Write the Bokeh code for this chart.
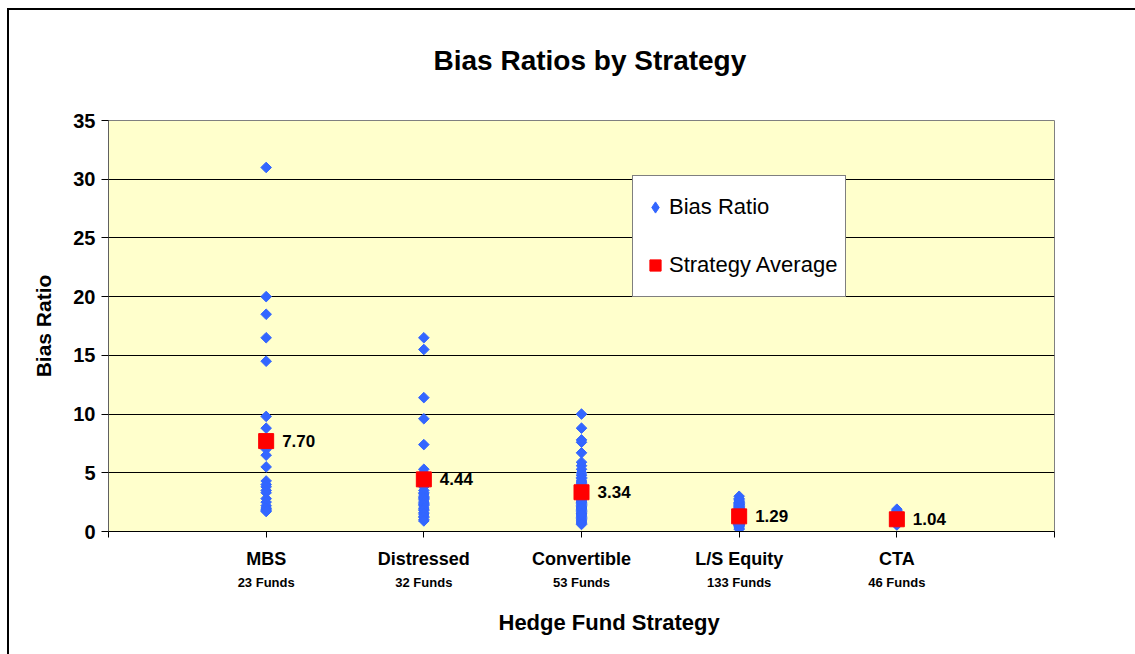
import numpy as np
from bokeh.plotting import figure
from bokeh.models import (Range1d, FixedTicker, LabelSet, Legend, LegendItem,
                          ColumnDataSource, LinearAxis, Title)
from bokeh.core.properties import value
from bokeh.embed import file_html
from bokeh.resources import INLINE

# ---------------- data ----------------
strategies = ["MBS", "Distressed", "Convertible", "L/S Equity", "CTA"]
fund_counts = [23, 32, 53, 133, 46]
averages = [7.70, 4.44, 3.34, 1.29, 1.04]

mbs = [31.0, 20.0, 18.5, 16.5, 14.5, 9.8, 8.8, 7.3, 7.0, 6.5, 5.5, 4.3, 4.0,
       3.8, 3.5, 3.3, 2.8, 2.5, 2.2, 2.0, 1.9, 1.8, 1.7]
distressed = [16.5, 15.5, 11.4, 9.6, 7.4, 5.3, 5.0, 4.7, 4.4, 4.2, 4.0, 3.8,
              3.5, 3.3, 3.2, 3.0, 2.9, 2.8, 2.7, 2.5, 2.4, 2.3, 2.2, 2.0, 1.9,
              1.8, 1.6, 1.5, 1.3, 1.2, 1.0, 0.9]
convertible = [10.0, 8.8, 7.8, 7.6, 6.7, 5.9, 5.6, 5.3, 5.0, 4.8, 4.6, 4.5,
               4.3, 4.1, 4.0, 3.8, 3.7, 3.6, 3.5, 3.4, 3.3, 3.2, 3.1, 3.0, 2.9,
               2.8, 2.7, 2.6, 2.5, 2.4, 2.3, 2.2, 2.1, 2.0, 1.9, 1.8, 1.7, 1.6,
               1.5, 1.4, 1.3, 1.2, 1.1, 1.0, 0.9, 0.8, 0.7, 0.6, 2.5, 3.0, 2.0,
               1.5, 4.2]
ls_equity = [3.0, 2.8, 2.6, 2.5, 2.4, 2.3, 2.2, 2.1, 2.0, 2.0,
             1.9, 1.9, 1.8, 1.8, 1.8, 1.7, 1.7, 1.7, 1.6, 1.6,
             1.6, 1.6, 1.5, 1.5, 1.5, 1.5, 1.5, 1.4, 1.4, 1.4,
             1.4, 1.4, 1.4, 1.3, 1.3, 1.3, 1.3, 1.3, 1.3, 1.3,
             1.2, 1.2, 1.2, 1.2, 1.2, 1.2, 1.2, 1.1, 1.1, 1.1,
             1.1, 1.1, 1.1, 1.1, 1.0, 1.0, 1.0, 1.0, 1.0, 1.0,
             0.9, 0.9, 0.9, 0.9, 0.9, 0.8, 0.8, 0.8, 0.8, 0.7,
             0.7, 0.7, 0.6, 0.6, 0.5, 0.5, 0.4, 0.3, 0.2, 1.25,
             1.45, 1.35, 1.25, 1.15, 1.05, 0.95, 1.55, 1.65, 1.75, 1.85,
             2.15, 2.35, 2.05, 1.95, 1.62, 1.38, 1.22, 1.08, 0.98, 0.88,
             1.32, 1.28, 1.18, 1.12, 1.02, 1.42, 1.48, 1.52, 1.58, 0.78,
             0.68, 0.72, 0.85, 0.92, 1.06, 1.16, 1.26, 1.36, 1.46, 1.56,
             1.66, 1.76, 1.86, 2.25, 2.45, 2.7, 0.58, 0.62, 0.82, 1.04,
             1.14, 1.24, 1.34]
cta = [1.9, 1.8, 1.7, 1.6, 1.5, 1.45, 1.4, 1.35, 1.3, 1.25, 1.2, 1.2, 1.15,
       1.1, 1.1, 1.05, 1.05, 1.0, 1.0, 1.0, 0.95, 0.95, 0.9, 0.9, 0.9, 0.85,
       0.85, 0.8, 0.8, 0.75, 0.75, 0.7, 0.7, 0.65, 0.6, 0.55, 1.12, 1.08,
       0.98, 0.92, 1.02, 0.88, 1.18, 1.28, 0.78, 0.68]

y_ticks = [0, 5, 10, 15, 20, 25, 30, 35]
x_ticks = [0, 1, 2, 3, 4, 5, 6]

series = [mbs, distressed, convertible, ls_equity, cta]

# ---------------- build sources ----------------
pts_x, pts_y = [], []
for i, vals in enumerate(series):
    pts_x += [i + 1] * len(vals)
    pts_y += list(vals)
pts_src = ColumnDataSource(dict(x=pts_x, y=pts_y))

cat_x = [i + 1 for i in range(len(strategies))]
avg_src = ColumnDataSource(dict(x=cat_x, y=averages,
                                txt=["%.2f" % a for a in averages]))

FONT = "Liberation Sans"
BLUE = "#3366FF"

p = figure(width=1135, height=654,
           x_range=Range1d(0, 6), y_range=Range1d(0, 35),
           output_backend="svg", toolbar_location=None,
           min_border_left=108, min_border_right=81,
           min_border_top=120, min_border_bottom=123,
           background_fill_color="#FFFFCC", border_fill_color=None,
           outline_line_color="#808080")
p.styles = {
    "background": "linear-gradient(black, black) 7px 8px / 2px 646px no-repeat, "
                  "linear-gradient(black, black) 7px 8px / 1128px 2px no-repeat, white"
}

# title
p.title = Title(text="Bias Ratios by Strategy", align="left", offset=325,
                vertical_align="top",
                text_font=FONT, text_font_style="bold", text_font_size="28px",
                text_color="black", standoff=86)

# y axis
p.yaxis.ticker = FixedTicker(ticks=y_ticks)
p.yaxis.major_label_text_font = FONT
p.yaxis.major_label_text_font_style = "bold"
p.yaxis.major_label_text_font_size = "20px"
p.yaxis.major_label_text_color = "black"
p.yaxis.major_label_standoff = 6
p.yaxis.major_tick_out = 7
p.yaxis.major_tick_in = 0
p.yaxis.minor_tick_out = 0
p.yaxis.minor_tick_in = 0
p.yaxis.axis_line_color = "#606060"
p.yaxis.major_tick_line_color = "black"
p.yaxis.axis_label = "Bias Ratio"
p.yaxis.axis_label_text_font = FONT
p.yaxis.axis_label_text_font_style = "bold"
p.yaxis.axis_label_text_font_size = "21px"
p.yaxis.axis_label_text_color = "black"
p.yaxis.axis_label_standoff = 15

# x axis: strategy names
xa = p.xaxis[0]
xa.ticker = FixedTicker(ticks=x_ticks)
xa.major_label_overrides = {0: "", 6: "", **{i + 1: s for i, s in enumerate(strategies)}}
xa.major_label_text_font = FONT
xa.major_label_text_font_style = "bold"
xa.major_label_text_font_size = "18px"
xa.major_label_text_color = "black"
xa.major_label_standoff = 11
xa.major_tick_out = 6
xa.major_tick_in = 0
xa.minor_tick_out = 0
xa.minor_tick_in = 0
xa.axis_line_color = "black"
xa.major_tick_line_color = "black"

# second x axis: fund counts
xa2 = LinearAxis(ticker=FixedTicker(ticks=cat_x),
                 major_label_overrides={i + 1: "%d Funds" % n for i, n in enumerate(fund_counts)},
                 major_label_text_font=FONT, major_label_text_font_style="bold",
                 major_label_text_font_size="13px", major_label_text_color="black",
                 major_label_standoff=3, axis_line_color=None,
                 major_tick_line_color=None, minor_tick_line_color=None,
                 major_tick_out=0, major_tick_in=0, minor_tick_out=0, minor_tick_in=0)
p.add_layout(xa2, "below")

p.add_layout(Title(text="Hedge Fund Strategy", align="left", offset=390,
                   text_font=FONT, text_font_style="bold", text_font_size="22px",
                   text_color="black", standoff=30), "below")

p.xgrid.visible = False
p.ygrid.ticker = FixedTicker(ticks=[5, 10, 15, 20, 25, 30])
p.ygrid.grid_line_color = "black"
p.ygrid.grid_line_width = 1

# glyphs: points as 45-degree squares (true diamonds)
r_pts = p.scatter(x="x", y="y", source=pts_src, marker="square",
                  angle=np.pi / 4, size=7.5,
                  fill_color=BLUE, line_color=BLUE)
r_avg = p.scatter(x="x", y="y", source=avg_src, marker="square", size=15,
                  fill_color="#FF0000", line_color="#FF0000")
# legend key glyph for the points series (a single NaN point, never plotted)
r_pts_key = p.scatter(x=[np.nan], y=[np.nan], marker="diamond", size=12,
                      fill_color=BLUE, line_color=BLUE)

p.add_layout(LabelSet(x="x", y="y", text="txt", source=avg_src, x_offset=16,
                      text_font=value(FONT), text_font_style="bold",
                      text_font_size="17px", text_color="black",
                      text_baseline="middle", text_align="left"))

legend = Legend(items=[LegendItem(label="Bias Ratio", renderers=[r_pts_key]),
                       LegendItem(label="Strategy Average", renderers=[r_avg])],
                location=(524, 234), margin=0, padding=8, spacing=12,
                label_height=46, glyph_height=46, glyph_width=28,
                label_standoff=0, label_text_font=FONT,
                label_text_font_size="22px", label_text_color="black",
                border_line_color="black", border_line_width=1,
                background_fill_color="white", background_fill_alpha=1.0)
p.add_layout(legend)

open("out.html", "w").write(file_html(p, INLINE))
